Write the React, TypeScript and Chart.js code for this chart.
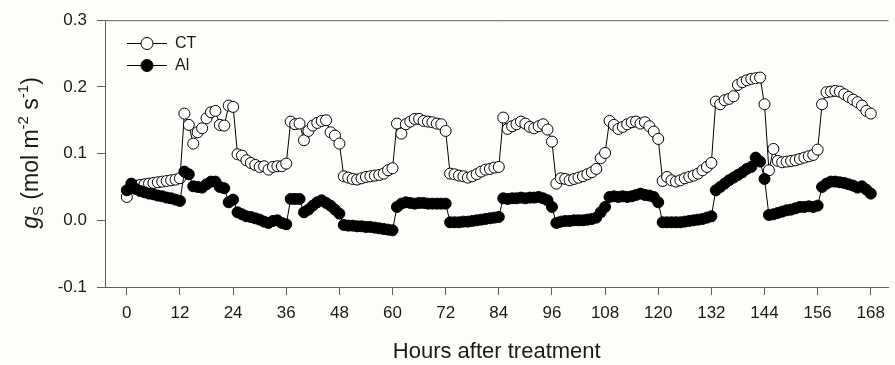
import React, { useEffect, useRef } from 'react';
import { Chart, registerables } from 'chart.js';

Chart.register(...registerables);

// Hourly sampling, 0 .. 168 h after treatment
const hours: number[] = Array.from({ length: 169 }, (_, i) => i);

const xTickValues = [0, 12, 24, 36, 48, 60, 72, 84, 96, 108, 120, 132, 144, 156, 168];
const yTickValues = [-0.1, 0.0, 0.1, 0.2, 0.3];

const seriesLabels = ['CT', 'Al'];

const ctValues = [
  0.035,
  0.050, 0.052, 0.053, 0.054, 0.055, 0.056, 0.057, 0.058, 0.059, 0.060, 0.061, 0.063,
  0.160, 0.143, 0.115, 0.132, 0.138, 0.153, 0.162, 0.164, 0.143, 0.142, 0.172, 0.170,
  0.099, 0.097, 0.090, 0.086, 0.083, 0.080, 0.081, 0.076, 0.080, 0.081, 0.081, 0.085,
  0.148, 0.144, 0.145, 0.120, 0.134, 0.142, 0.146, 0.149, 0.150, 0.132, 0.127, 0.115,
  0.066, 0.064, 0.062, 0.061, 0.063, 0.065, 0.066, 0.067, 0.068, 0.070, 0.075, 0.078,
  0.145, 0.130, 0.144, 0.148, 0.152, 0.152, 0.149, 0.148, 0.147, 0.145, 0.144, 0.134,
  0.070, 0.069, 0.067, 0.066, 0.064, 0.066, 0.069, 0.073, 0.076, 0.077, 0.079, 0.080,
  0.154, 0.137, 0.141, 0.144, 0.148, 0.145, 0.140, 0.138, 0.141, 0.144, 0.136, 0.118,
  0.055, 0.063, 0.062, 0.060, 0.062, 0.064, 0.066, 0.069, 0.072, 0.077, 0.093, 0.101,
  0.149, 0.143, 0.137, 0.140, 0.144, 0.147, 0.148, 0.145, 0.147, 0.141, 0.133, 0.122,
  0.059, 0.065, 0.060, 0.058, 0.060, 0.063, 0.065, 0.067, 0.070, 0.075, 0.080, 0.086,
  0.178, 0.174, 0.180, 0.182, 0.186, 0.203, 0.207, 0.210, 0.212, 0.213, 0.214, 0.174,
  0.075, 0.107, 0.089, 0.087, 0.088, 0.089, 0.090, 0.092, 0.094, 0.096, 0.098, 0.106,
  0.174, 0.192, 0.193, 0.194, 0.193, 0.189, 0.185, 0.181, 0.177, 0.172, 0.164, 0.160,
];

const alValues = [
  0.045,
  0.055, 0.047, 0.044, 0.042, 0.040, 0.039, 0.037, 0.036, 0.034, 0.033, 0.031, 0.029,
  0.073, 0.069, 0.051, 0.050, 0.049, 0.054, 0.058, 0.058, 0.050, 0.048, 0.027, 0.031,
  0.012, 0.009, 0.006, 0.005, 0.003, 0.001, -0.002, -0.004, -0.001, 0.000, -0.004, -0.006,
  0.032, 0.032, 0.032, 0.012, 0.016, 0.022, 0.027, 0.030, 0.026, 0.022, 0.016, 0.010,
  -0.007, -0.008, -0.008, -0.009, -0.009, -0.010, -0.010, -0.011, -0.012, -0.013, -0.014, -0.015,
  0.020, 0.025, 0.027, 0.026, 0.025, 0.026, 0.026, 0.025, 0.025, 0.025, 0.025, 0.025,
  -0.003, -0.003, -0.003, -0.002, -0.002, -0.001, 0.000, 0.001, 0.002, 0.003, 0.004, 0.005,
  0.033, 0.032, 0.033, 0.033, 0.034, 0.033, 0.034, 0.034, 0.035, 0.033, 0.030, 0.020,
  -0.004, -0.002, -0.001, -0.001, 0.000, 0.000, 0.000, 0.001, 0.002, 0.004, 0.012, 0.020,
  0.035, 0.036, 0.035, 0.036, 0.035, 0.036, 0.038, 0.040, 0.038, 0.037, 0.035, 0.027,
  -0.003, -0.003, -0.003, -0.003, -0.003, -0.002, -0.001, 0.000, 0.001, 0.002, 0.004, 0.006,
  0.045, 0.050, 0.055, 0.060, 0.064, 0.068, 0.072, 0.077, 0.080, 0.094, 0.088, 0.062,
  0.008, 0.009, 0.011, 0.013, 0.015, 0.016, 0.018, 0.020, 0.020, 0.021, 0.020, 0.022,
  0.050, 0.055, 0.058, 0.058, 0.057, 0.056, 0.054, 0.052, 0.049, 0.051, 0.046, 0.040,
];

const FONT = "'Liberation Sans', Arial, sans-serif";
const AXIS_COLOR = '#606060';
const TEXT_COLOR = '#1a1a1a';

const topBorderPlugin = {
  id: 'topBorder',
  afterDraw(chart: any) {
    const { ctx, chartArea } = chart;
    ctx.save();
    ctx.strokeStyle = AXIS_COLOR;
    ctx.lineWidth = 1;
    ctx.beginPath();
    ctx.moveTo(chartArea.left, chartArea.top + 0.5);
    ctx.lineTo(chartArea.right, chartArea.top + 0.5);
    ctx.stroke();
    ctx.restore();
  },
};

const yTitlePlugin = {
  id: 'yTitle',
  afterDraw(chart: any) {
    const { ctx } = chart;
    const main = 23;
    const small = 15;
    const parts = [
      { t: 'g', f: `italic ${main}px ${FONT}`, dy: 0 },
      { t: 'S', f: `${small}px ${FONT}`, dy: 5 },
      { t: ' (mol m', f: `${main}px ${FONT}`, dy: 0 },
      { t: '-2', f: `${small}px ${FONT}`, dy: -10 },
      { t: ' s', f: `${main}px ${FONT}`, dy: 0 },
      { t: '-1', f: `${small}px ${FONT}`, dy: -10 },
      { t: ')', f: `${main}px ${FONT}`, dy: 0 },
    ];
    ctx.save();
    let total = 0;
    const widths: number[] = [];
    for (const p of parts) {
      ctx.font = p.f;
      const w = ctx.measureText(p.t).width;
      widths.push(w);
      total += w;
    }
    const cy = 153;
    const baseX = 38;
    ctx.translate(baseX, cy);
    ctx.rotate(-Math.PI / 2);
    ctx.fillStyle = TEXT_COLOR;
    ctx.textBaseline = 'alphabetic';
    ctx.textAlign = 'left';
    let x = -total / 2;
    parts.forEach((p, i) => {
      ctx.font = p.f;
      ctx.fillText(p.t, x, p.dy);
      x += widths[i];
    });
    ctx.restore();
  },
};

const legendPlugin = {
  id: 'innerLegend',
  afterDraw(chart: any) {
    const { ctx } = chart;
    const rows = [
      { label: seriesLabels[0], fill: '#ffffff', y: 43 },
      { label: seriesLabels[1], fill: '#000000', y: 65 },
    ];
    ctx.save();
    for (const r of rows) {
      ctx.strokeStyle = '#000';
      ctx.lineWidth = 1;
      ctx.beginPath();
      ctx.moveTo(127, r.y + 0.5);
      ctx.lineTo(167, r.y + 0.5);
      ctx.stroke();
      ctx.beginPath();
      ctx.arc(147, r.y + 0.5, 6, 0, Math.PI * 2);
      ctx.fillStyle = r.fill;
      ctx.fill();
      ctx.stroke();
      ctx.fillStyle = TEXT_COLOR;
      ctx.font = `16px ${FONT}`;
      ctx.textBaseline = 'middle';
      ctx.textAlign = 'left';
      ctx.fillText(r.label, 175, r.y + 1);
    }
    ctx.restore();
  },
};

export default function App() {
  const canvasRef = useRef<HTMLCanvasElement | null>(null);

  useEffect(() => {
    const canvas = canvasRef.current;
    if (!canvas) return;
    const ctPoints = hours.map((h, i) => ({ x: h, y: ctValues[i] }));
    const alPoints = hours.map((h, i) => ({ x: h, y: alValues[i] }));

    const chart = new Chart(canvas, {
      type: 'line',
      data: {
        datasets: [
          {
            label: seriesLabels[1],
            data: alPoints,
            borderColor: '#000',
            borderWidth: 1,
            pointRadius: 5.5,
            pointBorderWidth: 1,
            pointBackgroundColor: '#000',
            pointBorderColor: '#000',
            tension: 0,
            order: 0,
          },
          {
            label: seriesLabels[0],
            data: ctPoints,
            borderColor: '#000',
            borderWidth: 1,
            pointRadius: 5.5,
            pointBorderWidth: 1,
            pointBackgroundColor: '#fff',
            pointBorderColor: '#000',
            tension: 0,
            order: 1,
          },
        ],
      },
      options: {
        animation: false,
        responsive: false,
        devicePixelRatio: 1,
        layout: { padding: { top: 19, right: 0, left: 0, bottom: 0 } },
        plugins: {
          legend: { display: false },
          tooltip: { enabled: false },
        },
        scales: {
          x: {
            type: 'linear',
            min: -4.93,
            max: 172.0,
            afterBuildTicks: (scale: any) => {
              scale.ticks = xTickValues.map((v) => ({ value: v }));
            },
            afterFit: (scale: any) => {
              scale.height = 78;
            },
            grid: {
              drawOnChartArea: false,
              drawTicks: true,
              tickLength: 8,
              color: AXIS_COLOR,
            },
            border: { display: true, color: AXIS_COLOR, width: 1 },
            ticks: {
              autoSkip: false,
              maxRotation: 0,
              padding: 8,
              color: TEXT_COLOR,
              font: { family: FONT, size: 17 },
              callback: (v: any) => String(v),
            },
            title: {
              display: true,
              text: 'Hours after treatment',
              color: TEXT_COLOR,
              font: { family: FONT, size: 22 },
              padding: { top: 0, bottom: 0 },
            },
          },
          y: {
            type: 'linear',
            min: -0.1,
            max: 0.3,
            afterBuildTicks: (scale: any) => {
              scale.ticks = yTickValues.map((v) => ({ value: v }));
            },
            afterFit: (scale: any) => {
              scale.width = 105;
            },
            grid: {
              drawOnChartArea: false,
              drawTicks: true,
              tickLength: 8,
              color: AXIS_COLOR,
            },
            border: { display: true, color: AXIS_COLOR, width: 1 },
            ticks: {
              padding: 10,
              color: TEXT_COLOR,
              font: { family: FONT, size: 17 },
              callback: (v: any) => Number(v).toFixed(1),
            },
          },
        },
      },
      plugins: [topBorderPlugin, yTitlePlugin, legendPlugin],
    } as any);

    return () => {
      chart.destroy();
    };
  }, []);

  return (
    <div
      style={{
        position: 'absolute',
        left: 0,
        top: 0,
        width: 895,
        height: 365,
        background: '#fdfdf9',
      }}
    >
      <canvas ref={canvasRef} width={895} height={365} />
    </div>
  );
}
